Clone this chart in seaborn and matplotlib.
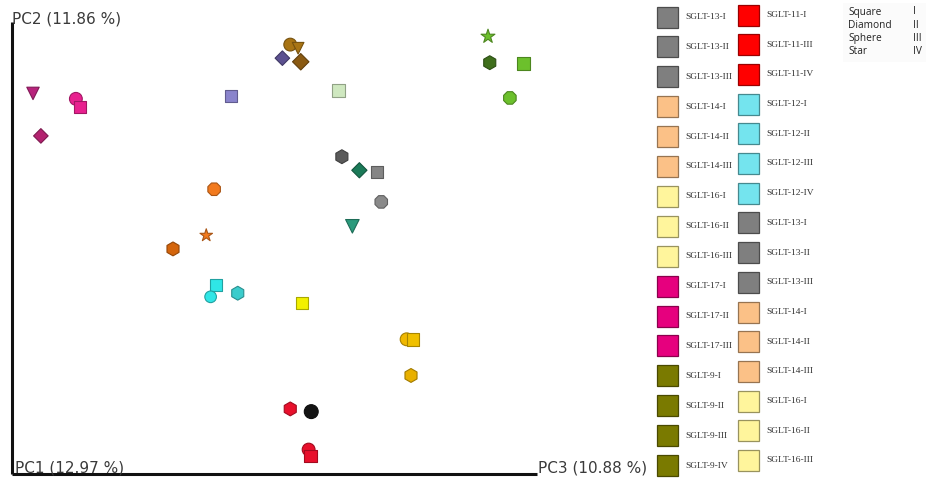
import matplotlib
matplotlib.use("Agg")
import matplotlib.pyplot as plt
import matplotlib.colors as mcolors
from matplotlib.patches import Rectangle
import numpy as np
import pandas as pd
import seaborn as sns

# PCA scores (projected onto the PC3 / PC2 plane)
pc3 = [-0.276, -0.227, -0.222, -0.267, -0.050, 0.018, 0.027, 0.009, 0.030,
       0.073, 0.244, 0.246, 0.285, 0.269, 0.077, 0.097, 0.117, 0.122, 0.089,
       -0.069, -0.078, -0.116, -0.067, -0.073, -0.042, 0.031, 0.151, 0.158,
       0.156, 0.018, 0.042, 0.039, 0.041]
pc2 = [0.171, 0.165, 0.156, 0.124, 0.168, 0.225, 0.221, 0.210, 0.206,
       0.174, 0.234, 0.205, 0.204, 0.166, 0.101, 0.086, 0.084, 0.051, 0.024,
       0.065, 0.014, -0.001, -0.041, -0.054, -0.050, -0.061, -0.101, -0.101,
       -0.141, -0.178, -0.181, -0.223, -0.230]
shapes = ["v", "o", "s", "D", "s", "o", "v", "D", "D",
          "s", "*", "h", "s", "8", "h", "D", "s", "8", "v",
          "8", "*", "h", "s", "o", "h", "s", "o", "s",
          "h", "h", "o", "o", "s"]
colours = ["#b8237c", "#e8218f", "#e8218f", "#b3226f", "#8a84cc", "#a87414",
           "#a87414", "#5c5190", "#8a5a12", "#cfe8c0", "#6cc02c", "#3f6f1c",
           "#6cc02c", "#6cc02c", "#5a5a5a", "#1b7a58", "#858585", "#8a8a8a",
           "#2a9a7c", "#f27a1e", "#f27a1e", "#d4650c", "#2fe6e6", "#2fe6e6",
           "#3ccccc", "#f2f000", "#f0b800", "#f0c000", "#e8b000", "#e8102c",
           "#141414", "#e8102c", "#e8102c"]
sizes = [80, 85, 80, 55, 80, 85, 70, 55, 70, 80, 110, 100, 85, 95, 100, 60,
         80, 95, 95, 95, 90, 100, 75, 70, 100, 75, 85, 80, 100, 100, 100, 85, 85]

# Legend entries (two columns of sample groups)
legend_col1 = ["SGLT-13-I", "SGLT-13-II", "SGLT-13-III", "SGLT-14-I",
               "SGLT-14-II", "SGLT-14-III", "SGLT-16-I", "SGLT-16-II",
               "SGLT-16-III", "SGLT-17-I", "SGLT-17-II", "SGLT-17-III",
               "SGLT-9-I", "SGLT-9-II", "SGLT-9-III", "SGLT-9-IV"]
legend_col2 = ["SGLT-11-I", "SGLT-11-III", "SGLT-11-IV", "SGLT-12-I",
               "SGLT-12-II", "SGLT-12-III", "SGLT-12-IV", "SGLT-13-I",
               "SGLT-13-II", "SGLT-13-III", "SGLT-14-I", "SGLT-14-II",
               "SGLT-14-III", "SGLT-16-I", "SGLT-16-II", "SGLT-16-III"]
group_colours = {"SGLT-9": "#7a7a00", "SGLT-11": "#ff0000",
                 "SGLT-12": "#74e4ee", "SGLT-13": "#7f7f7f",
                 "SGLT-14": "#fbc187", "SGLT-16": "#fff59c",
                 "SGLT-17": "#e6007e"}
shape_key = ["Square", "Diamond", "Sphere", "Star"]
shape_roman = ["I", "II", "III", "IV"]

axis_labels = ["PC2 (11.86 %)", "PC1 (12.97 %)", "PC3 (10.88 %)"]

df = pd.DataFrame({"pc3": pc3, "pc2": pc2, "shape": shapes,
                   "colour": colours, "size": sizes})


def darker(c, f=0.7):
    r, g, b = mcolors.to_rgb(c)
    return (r * f, g * f, b * f)


W, H = 926, 479
fig = plt.figure(figsize=(W / 100, H / 100), dpi=100)
sns.set_style("white")

ax = fig.add_axes([12 / W, 5 / H, 525 / W, 452 / H])
sns.scatterplot(data=df, x="pc3", y="pc2", hue="colour", style="shape",
                size="size", sizes=(min(sizes), max(sizes)),
                palette={c: c for c in colours},
                markers={m: m for m in shapes},
                edgecolor=[darker(c) for c in colours], linewidth=0.8,
                legend=False, ax=ax, zorder=3, clip_on=False)
ax.set_xlim(-0.3, 0.3)
ax.set_ylim(-0.25, 0.25)
ax.set_xticks([])
ax.set_yticks([])
ax.set_xlabel("")
ax.set_ylabel("")
for side in ["top", "right"]:
    ax.spines[side].set_visible(False)
for side in ["left", "bottom"]:
    ax.spines[side].set_color("#111111")
    ax.spines[side].set_linewidth(2.2)
    ax.spines[side].set_capstyle("butt")

txt_kw = dict(fontsize=11, color="#3a3a3a", family="DejaVu Sans")
fig.text(12 / W, 1 - 19 / H, axis_labels[0], va="center", ha="left", **txt_kw)
fig.text(15 / W, 1 - 468 / H, axis_labels[1], va="center", ha="left", **txt_kw)
fig.text(538 / W, 1 - 468 / H, axis_labels[2], va="center", ha="left", **txt_kw)


def group_of(label):
    return "-".join(label.split("-")[:2])


def draw_column(labels, x_sq, y0, step):
    for i, lab in enumerate(labels):
        yc = y0 + i * step
        col = group_colours[group_of(lab)]
        fig.add_artist(Rectangle((x_sq / W, 1 - (yc + 10.5) / H), 21 / W, 21 / H,
                                 transform=fig.transFigure, facecolor=col,
                                 edgecolor=darker(col, 0.6), linewidth=0.9))
        fig.text((x_sq + 28) / W, 1 - yc / H, lab, va="center", ha="left",
                 fontsize=6.8, color="#333333", family="Liberation Serif")


draw_column(legend_col1, 657, 17, 29.9)
draw_column(legend_col2, 738, 15, 29.7)

# Shape key
fig.add_artist(Rectangle((843 / W, 1 - 62 / H), 83 / W, 59 / H,
                         transform=fig.transFigure, facecolor="#fbfbfb",
                         edgecolor="none"))
for i, (name, rom) in enumerate(zip(shape_key, shape_roman)):
    yc = 12 + i * 13.2
    fig.text(848 / W, 1 - yc / H, name, va="center", ha="left",
             fontsize=7.3, color="#222222", family="Open Sans")
    fig.text(913 / W, 1 - yc / H, rom, va="center", ha="left",
             fontsize=7.3, color="#222222", family="Open Sans")

fig.savefig("out.png", dpi=100, facecolor="white")
